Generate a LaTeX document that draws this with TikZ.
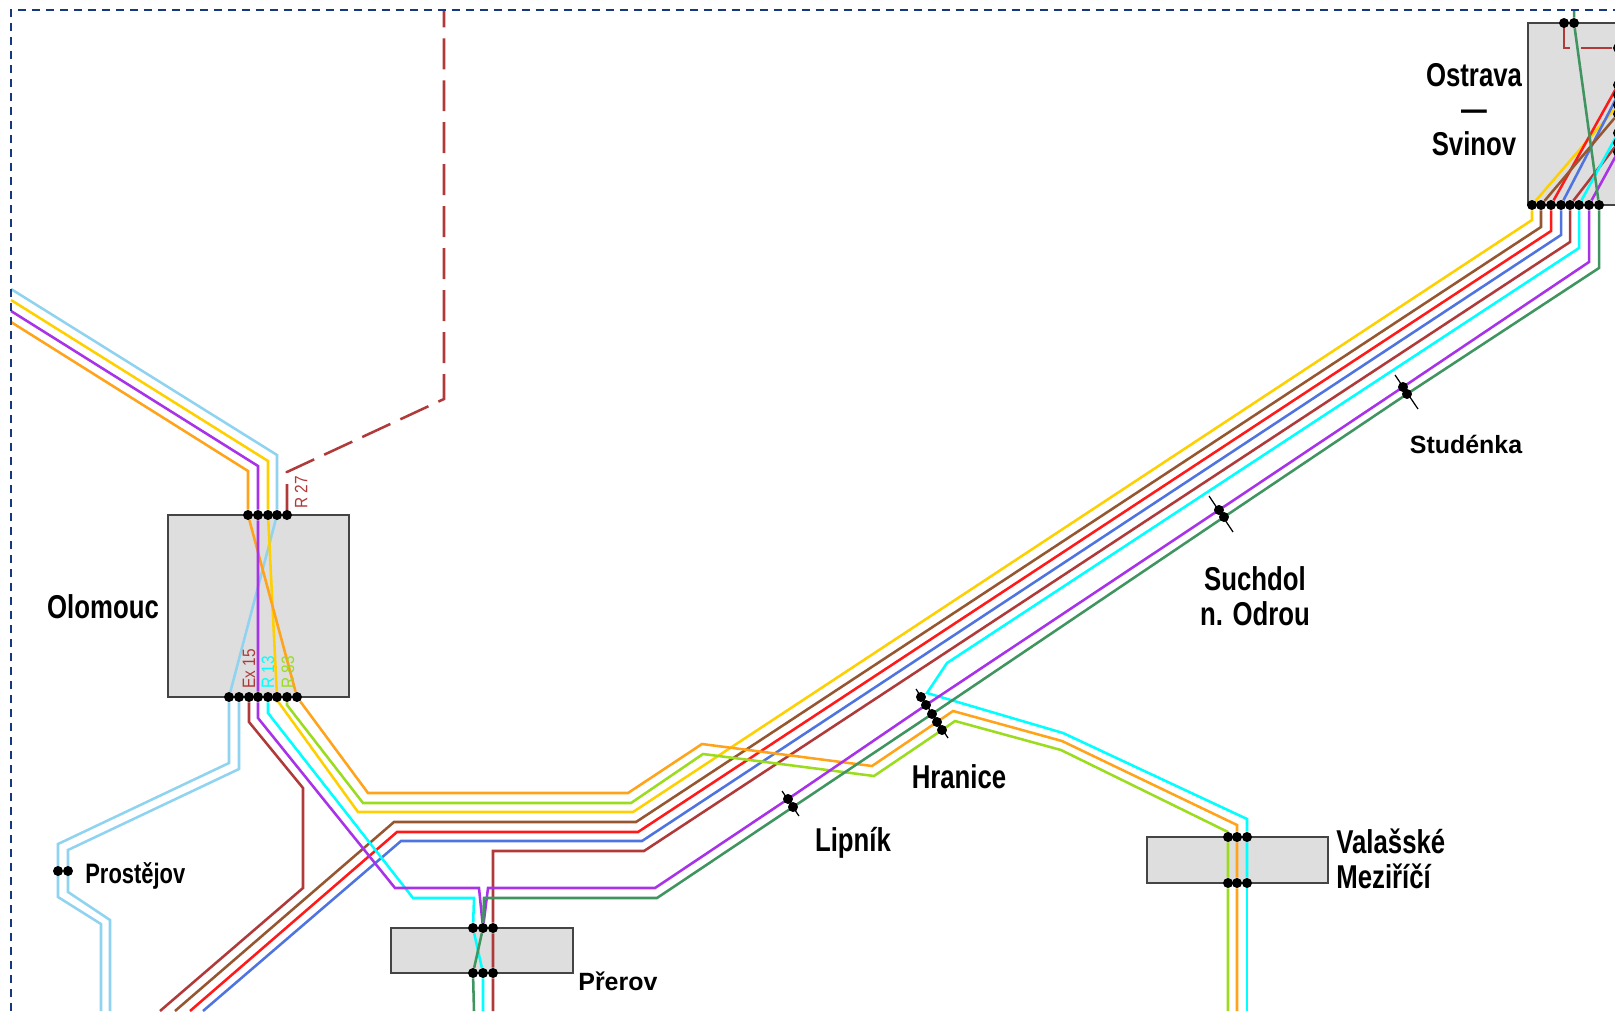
\documentclass[tikz,border=0pt]{standalone}
\usepackage{fontspec}
\setmainfont{Liberation Sans}
\newfontfamily\narrowfont[FakeStretch=0.78]{Liberation Sans}
\newfontfamily\tagfont[FakeStretch=0.86]{Liberation Sans}
\usepackage{xcolor}
\definecolor{FrameNavy}{HTML}{17387F}
\definecolor{BoxGray}{HTML}{DEDEDE}
\definecolor{BoxEdge}{HTML}{444444}
\definecolor{LineOrange}{HTML}{FFA31A}
\definecolor{LinePurple}{HTML}{A832E8}
\definecolor{LineYellow}{HTML}{FFD000}
\definecolor{LineSky}{HTML}{8FD3F0}
\definecolor{LineRed}{HTML}{FF1A1A}
\definecolor{LineBlue}{HTML}{4F74E0}
\definecolor{LineBrown}{HTML}{96562F}
\definecolor{LineBrick}{HTML}{B03A3A}
\definecolor{LineCyan}{HTML}{00FFFF}
\definecolor{LineLime}{HTML}{9BDC1E}
\definecolor{LineGreen}{HTML}{3F9460}
\usetikzlibrary{backgrounds}
\tikzset{
    stationbox/.style={draw=BoxEdge, line width=1.2pt, fill=BoxGray},
    stopdot/.style={circle, fill=black, inner sep=0pt, minimum size=2mm},
    route/.style={line width=1.45pt, line join=miter},
    routedash/.style={route, dash pattern=on 0.62cm off 0.22cm},
    tickline/.style={line width=0.7pt, color=black},
    bigname/.style={font=\narrowfont\bfseries\fontsize{18.8pt}{19.6pt}\selectfont, inner sep=0pt, align=center},
    smallname/.style={font=\bfseries\fontsize{14.2pt}{16pt}\selectfont, inner sep=0pt},
    linetag/.style={font=\tagfont\fontsize{10.2pt}{11pt}\selectfont, inner sep=0pt, rotate=90, anchor=west}
}

\begin{document}
\begin{tikzpicture}[x=0.02cm, y=-0.02cm]
    \useasboundingbox (0,0) rectangle (1615,1011);

    % Draw station boxes
    \begin{scope}[on background layer]
      \draw[stationbox] (168,515) rectangle (349,697);
      \draw[stationbox] (391,928) rectangle (573,973);
      \draw[stationbox] (1147,837) rectangle (1328,883);
      \draw[stationbox] (1528,23) rectangle (1630,205);
    \end{scope}

    % Draw dashed frame
    \draw[FrameNavy, line width=0.95pt, dash pattern=on 0.16cm off 0.12cm] (11,1011) -- (11,10) -- (1615,10);

    % Station dots
    \foreach \x [count=\i from 1] in {248,258,268,277,287} {
      \node[stopdot] (olt\i) at (\x,515) {};
    }
    \foreach \x [count=\i from 1] in {229,239,249,258,268,277,287,297} {
      \node[stopdot] (olb\i) at (\x,697) {};
    }
    \foreach \x [count=\i from 1] in {473,483,493} {
      \node[stopdot] (prt\i) at (\x,928) {};
      \node[stopdot] (prb\i) at (\x,973) {};
    }
    \foreach \x [count=\i from 1] in {1228,1237,1247} {
      \node[stopdot] (vat\i) at (\x,837) {};
      \node[stopdot] (vab\i) at (\x,883) {};
    }
    \foreach \x [count=\i from 1] in {1532,1541,1551,1561,1570,1579,1589,1599} {
      \node[stopdot] (osb\i) at (\x,205) {};
    }
    \foreach \y [count=\i from 1] in {85,95,105,114,133,143,152,48} {
      \node[stopdot] (osr\i) at (1618,\y) {};
    }
    \node[stopdot] (ost1) at (1564,23) {};
    \node[stopdot] (ost2) at (1574,23) {};
    \node[stopdot] (pv1) at (58,871) {};
    \node[stopdot] (pv2) at (68,871) {};
    \node[stopdot] (li1) at (788,799) {};
    \node[stopdot] (li2) at (793,807) {};
    \node[stopdot] (su1) at (1219,510) {};
    \node[stopdot] (su2) at (1224,517) {};
    \node[stopdot] (st1) at (1403,387) {};
    \node[stopdot] (st2) at (1407,394) {};
    \node[stopdot] (hr1) at (921,697) {};
    \node[stopdot] (hr2) at (926,705) {};
    \node[stopdot] (hr3) at (932,714) {};
    \node[stopdot] (hr4) at (937,722) {};
    \node[stopdot] (hr5) at (942,730) {};

    % Free ends of the routes
    \coordinate (edgeOrange) at (11,322);
    \coordinate (edgePurple) at (11,311);
    \coordinate (edgeYellow) at (11,300);
    \coordinate (edgeSky) at (11,289);
    \coordinate (downSkyA) at (101,1011);
    \coordinate (downSkyB) at (110,1011);
    \coordinate (downBrick) at (160,1011);
    \coordinate (downBrown) at (175,1011);
    \coordinate (downRed) at (190,1011);
    \coordinate (downBlue) at (203,1011);
    \coordinate (downGreen) at (474,1011);
    \coordinate (downCyan) at (483,1011);
    \coordinate (downBrickB) at (493,1011);
    \coordinate (downLime) at (1228,1011);
    \coordinate (downOrange) at (1237,1011);
    \coordinate (downCyanB) at (1247,1011);
    \coordinate (topGreen) at (1574,10);
    \coordinate (topDash) at (444,10);

    % Station ticks
    \begin{scope}[on background layer]
      \draw[tickline] (782,791) coordinate (liA) -- (799,816) coordinate (liB);
      \draw[tickline] (916,689) coordinate (hrA) -- (948,738) coordinate (hrB);
      \draw[tickline] (1209,496) coordinate (suA) -- (1233,532) coordinate (suB);
      \draw[tickline] (1395,375) coordinate (stA) -- (1418,409) coordinate (stB);
    \end{scope}

    % Draw routes
    \begin{scope}[on background layer]
      \draw[route, LineSky] (edgeSky) -- (277,455) -- (olt4) -- (olb1) -- (229,763) -- (58,844) -- (pv1.center) -- (58,897) -- (101,924) -- (downSkyA);
      \draw[route, LineSky] (olb2) -- (239,769) -- (68,850) -- (pv2.center) -- (68,892) -- (110,920) -- (downSkyB);
      \draw[route, LineYellow] (edgeYellow) -- (268,461) -- (olt3) -- (olb6) -- (277,700) -- (358,812) -- (633,812) -- (1532,220) -- (osb1) -- (osr3);
      \draw[route, LineBlue] (downBlue) -- (401,841) -- (642,841) -- (1561,235) -- (osb4) -- (osr2);
      \draw[route, LineRed] (downRed) -- (397,832) -- (638,832) -- (1551,231) -- (osb3) -- (osr1);
      \draw[route, LineBrown] (downBrown) -- (394,822) -- (636,822) -- (1541,227) -- (osb2) -- (osr4);
      \draw[route, LineBrick] (olb3) -- (249,722) -- (303,788) -- (303,888) -- (downBrick);
      \draw[route, LineBrick] (downBrickB) -- (prb3) -- (prt3) -- (493,851) -- (644,851) -- (1570,242) -- (osb5) -- (osr6);
      \draw[routedash, LineBrick] (olt5.center) -- (287,472) -- (444,399) -- (topDash);
      \draw[routedash, LineBrick] (ost1.center) -- (1564,48) -- (osr8);
      \draw[route, LineLime] (olb7) -- (287,705) -- (363,803) -- (631,803) -- (703,754) -- (874,776) -- (hr5.center) -- (955,721) -- (1061,750) -- (1228,832) -- (vat1) -- (vab1) -- (downLime);
      \draw[route, LineOrange] (edgeOrange) -- (248,471) -- (olt1) -- (olb8) -- (368,793) -- (628,793) -- (702,744) -- (872,766) -- (hr4.center) -- (953,711) -- (1062,741) -- (1237,825) -- (vat2) -- (vab2) -- (downOrange);
      \draw[route, LineCyan] (olb5) -- (268,713) -- (413,898) -- (474,898) -- (prt1) -- (prb2) -- (downCyan);
      \draw[route, LineCyan] (vab3) -- (downCyanB);
      \draw[route, LineCyan] (vab3) -- (vat3) -- (1247,819) -- (1063,733) -- (927,693) -- (947,663) -- (1579,248) -- (osb6) -- (osr5);
      \draw[route, LinePurple] (edgePurple) -- (258,466) -- (olt2) -- (olb4) -- (258,718) -- (395,888) -- (479,888) -- (prt2) -- (488,888) -- (655,888) -- (li1.center) -- (hr2.center) -- (su1.center) -- (st1.center) -- (1589,262) -- (osb7) -- (osr7);
      \draw[route, LineGreen] (downGreen) -- (prb1) -- (prt2) -- (484,898) -- (657,898) -- (li2.center) -- (hr3.center) -- (su2.center) -- (st2.center) -- (1599,268) -- (osb8) -- (ost2) -- (topGreen);
    \end{scope}

    % Line tags
    \node[linetag, color=LineBrick] (tagex) at (249,689) {Ex 15};
    \node[linetag, color=LineCyan] (tagrt) at (268,689) {R 13};
    \node[linetag, color=LineLime] (tagre) at (288,689) {R 83};
    \node[linetag, color=LineBrick] (tagrs) at (301,509) {R 27};

    % Station names
    \node[bigname, anchor=base] (olomouc) at (103,618) {Olomouc};
    \node[bigname, anchor=base] (ostrava) at (1474,155) {Ostrava\\—\\Svinov};
    \node[bigname, anchor=base] (suchdol) at (1255,625) {Suchdol\\n. Odrou};
    \node[bigname, anchor=base] (lipnik) at (853,851) {Lipník};
    \node[bigname, anchor=base] (hranice) at (959,788) {Hranice};
    \node[bigname, anchor=base west, align=left] (valmez) at (1336,888) {Valašské\\Meziříčí};
    \node[smallname, anchor=base west] (prerov) at (578,990) {Přerov};
    \node[smallname, anchor=base] (studenka) at (1466,453) {Studénka};
    \node[bigname, anchor=base west, font=\narrowfont\bfseries\fontsize{16pt}{18pt}\selectfont] (prostejov) at (85,883) {Prostějov};
\end{tikzpicture}
\end{document}
